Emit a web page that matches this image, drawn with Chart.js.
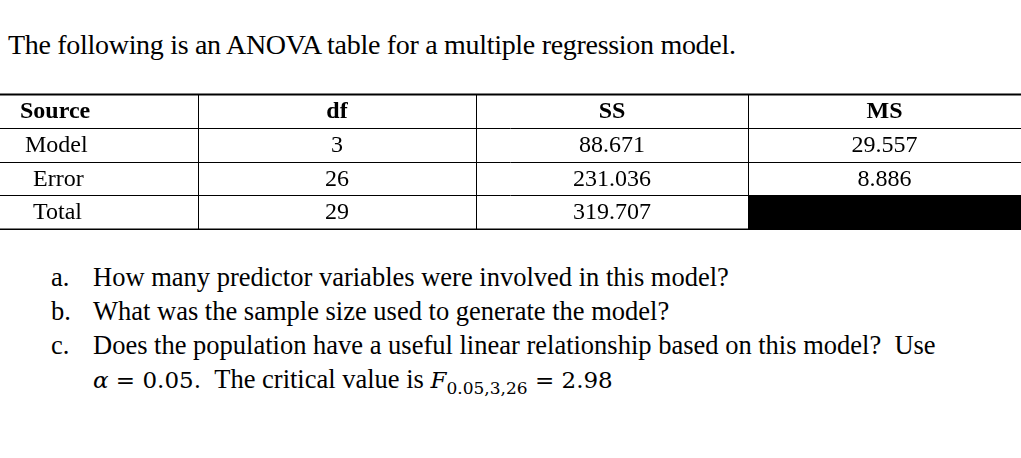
<!DOCTYPE html>
<html><head><meta charset="utf-8">
<script src="https://cdn.jsdelivr.net/npm/chart.js@4"></script>
<style>
body{margin:0;background:#fff;width:1021px;height:458px;position:relative;overflow:hidden;font-family:"Liberation Serif","Times New Roman",serif;color:#000}
#title{position:absolute;left:8px;top:29px;font-size:28px;letter-spacing:-0.3px}
#wrap{position:absolute;left:0;top:93px;width:1021px;height:137px}
.q{position:absolute;font-size:26.5px;white-space:nowrap;line-height:30px}
.q b{font-weight:normal;display:inline-block;width:42px}
.m{font-family:"DejaVu Serif",serif;font-size:23px}
</style></head><body>
<div id="title">The following is an ANOVA table for a multiple regression model.</div>
<div id="wrap"><canvas id="c"></canvas></div>
<div class="q" style="left:51px;top:262px"><b>a.</b>How many predictor variables were involved in this model?</div>
<div class="q" style="left:51px;top:296px"><b>b.</b>What was the sample size used to generate the model?</div>
<div class="q" style="left:51px;top:330px"><b>c.</b>Does the population have a useful linear relationship based on this model?&nbsp; Use</div>
<div class="q" style="left:93px;top:364px"><span class="m"><i>α</i> = 0.05.</span>&nbsp; The critical value is <span class="m"><i>F</i><sub style="font-size:17px">0.05,3,26</sub> = 2.98</span></div>
<script>
const headers=["Source","df","SS","MS"];
const sources=["Model","Error","Total"];
const dfVals=["3","26","29"];
const ssVals=["88.671","231.036","319.707"];
const msVals=["29.557","8.886",""];
const colEdges=[0,198,476,748,1021];
const rows=["h",...sources];
const tablePlugin={id:'tbl',afterDraw(ch){
 const c=ch.ctx,y=ch.scales.y;
 const band=(y.bottom-y.top)/rows.length;
 const W=ch.width;
 const X=v=>v*W/1021;
 c.save();c.fillStyle='#000';c.strokeStyle='#000';
 c.fillRect(X(colEdges[3]),y.getPixelForValue(3)-band/2,X(colEdges[4])-X(colEdges[3]),band);
 for(let i=0;i<=rows.length;i++){const yy=y.top+i*band;c.lineWidth=(i==0||i==rows.length)?2:1;
  c.beginPath();c.moveTo(0,Math.round(yy)+0.5);c.lineTo(W,Math.round(yy)+0.5);c.stroke();}
 c.lineWidth=1;
 for(let k=1;k<4;k++){const xx=Math.round(X(colEdges[k]))+0.5;c.beginPath();c.moveTo(xx,y.top);c.lineTo(xx,y.bottom);c.stroke();}
 c.textBaseline='middle';
 const cols=[sources,dfVals,ssVals,msVals];
 rows.forEach((r,i)=>{const yc=y.getPixelForValue(i)+1;
  for(let k=0;k<4;k++){
   const txt=i==0?headers[k]:cols[k][i-1];
   c.font=(i==0?'bold ':'')+'24px "Liberation Serif"';
   if(k==0){c.textAlign='left';c.fillText(txt,i==0?20:(i==1?25:33),yc);}
   else{c.textAlign='center';c.fillText(txt,(X(colEdges[k])+X(colEdges[k+1]))/2,yc);}
  }});
 c.restore();}};
new Chart(document.getElementById('c'),{type:'bar',
 data:{labels:rows,datasets:[{data:[]}]},
 options:{responsive:true,maintainAspectRatio:false,animation:false,
  layout:{padding:{top:1,bottom:1,left:0,right:0}},
  plugins:{legend:{display:false},tooltip:{enabled:false}},
  scales:{x:{type:'linear',min:0,max:1021,display:false,offset:false},y:{type:'category',labels:rows,display:false,offset:true}}},
 plugins:[tablePlugin]});
</script></body></html>
